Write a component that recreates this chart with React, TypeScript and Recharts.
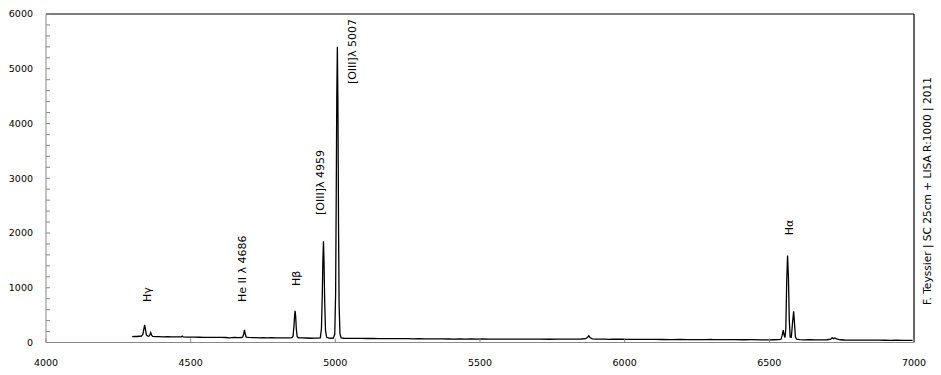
import { LineChart, Line, XAxis, YAxis, ReferenceLine, ReferenceDot } from 'recharts';

// wavelength (Å) and relative flux
const wavelength = [
  4298, 4306, 4314, 4322, 4330, 4335, 4338, 4341, 4344, 4347, 4351, 4355, 4359, 4362, 4365, 4369,
  4378, 4390, 4405, 4420, 4435, 4450, 4462, 4468, 4471, 4474, 4485, 4500, 4515, 4530, 4545, 4560,
  4575, 4590, 4605, 4620, 4635, 4650, 4665, 4675, 4680, 4683, 4686, 4689, 4692, 4700, 4712, 4725,
  4738, 4750, 4765, 4780, 4795, 4810, 4825, 4840, 4850, 4854, 4857, 4859, 4861, 4863, 4865, 4868,
  4872, 4885, 4900, 4915, 4928, 4940, 4948, 4952, 4955, 4957, 4959, 4961, 4963, 4966, 4970, 4978,
  4986, 4993, 4998, 5001, 5003, 5005, 5007, 5009, 5011, 5013, 5016, 5020, 5030, 5045, 5060, 5075,
  5090, 5110, 5130, 5150, 5170, 5190, 5210, 5230, 5250, 5270, 5290, 5310, 5330, 5350, 5370, 5390,
  5410, 5430, 5450, 5470, 5490, 5510, 5530, 5560, 5590, 5620, 5650, 5680, 5710, 5740, 5770, 5800,
  5830, 5850, 5865, 5872, 5876, 5880, 5888, 5900, 5915, 5930, 5945, 5960, 5975, 5990, 6010, 6040,
  6070, 6100, 6130, 6160, 6190, 6220, 6250, 6280, 6300, 6304, 6320, 6350, 6380, 6410, 6440, 6470,
  6500, 6515, 6530, 6540, 6544, 6548, 6551, 6554, 6557, 6560, 6563, 6566, 6569, 6572, 6576, 6580,
  6584, 6587, 6590, 6594, 6605, 6620, 6640, 6660, 6680, 6700, 6712, 6717, 6722, 6727, 6732, 6745,
  6760, 6780, 6800, 6820, 6840, 6860, 6880, 6900, 6920, 6940, 6960, 6980, 6995,
];
const flux = [
  108, 112, 110, 114, 118, 150, 240, 320, 230, 140, 118, 112, 140, 180, 135, 112,
  108, 106, 104, 105, 102, 103, 101, 104, 118, 102, 100, 98, 97, 96, 93, 95,
  94, 93, 92, 91, 85, 92, 90, 91, 100, 150, 230, 150, 98, 92, 89, 90,
  86, 88, 85, 87, 86, 84, 85, 84, 88, 120, 300, 480, 580, 470, 260, 110,
  86, 83, 82, 78, 80, 79, 85, 250, 900, 1500, 1850, 1450, 800, 220, 95, 80,
  78, 80, 150, 900, 2600, 4500, 5400, 4300, 2200, 700, 160, 85, 78, 76, 77, 74,
  75, 73, 74, 72, 70, 72, 71, 69, 70, 67, 69, 66, 68, 65, 66, 64,
  62, 65, 63, 64, 62, 64, 63, 62, 63, 61, 62, 60, 61, 59, 60, 61,
  62, 64, 70, 95, 125, 90, 66, 62, 60, 63, 58, 61, 59, 60, 58, 57,
  56, 57, 55, 54, 55, 53, 54, 52, 58, 54, 52, 51, 52, 50, 51, 49,
  48, 50, 52, 55, 120, 225, 140, 90, 250, 1100, 1590, 1200, 400, 100, 95, 350,
  570, 350, 110, 60, 52, 48, 50, 47, 48, 50, 60, 85, 70, 82, 65, 50,
  46, 45, 44, 45, 43, 42, 44, 41, 40, 42, 39, 40, 38,
];

const xTicks = [4000, 4500, 5000, 5500, 6000, 6500, 7000];
const yTicks = [
  0, 200, 400, 600, 800, 1000, 1200, 1400, 1600, 1800, 2000, 2200, 2400, 2600, 2800, 3000,
  3200, 3400, 3600, 3800, 4000, 4200, 4400, 4600, 4800, 5000, 5200, 5400, 5600, 5800, 6000,
];

// line identifications: text, and the point where the rotated label starts
const lineLabels = ['Hγ', 'He II λ 4686', 'Hβ', '[OIII]λ 4959', '[OIII]λ 5007', 'Hα'];
const labelWave = [4349, 4677, 4864, 4947, 5058, 6568];
const labelFlux = [740, 740, 1030, 2330, 4720, 1960];

const credit = 'F. Teyssier | SC 25cm + LISA R:1000  |  2011';

const data = wavelength.map((w, i) => ({ wavelength: w, flux: flux[i] }));

const font = 'DejaVu Sans';

function YTick(props: any) {
  const { x, y, payload } = props;
  const major = payload.value % 1000 === 0;
  return (
    <g>
      <line x1={x} x2={x + 4} y1={y} y2={y} stroke="#888" />
      {major && (
        <text x={x - 13} y={y} dy="0.35em" textAnchor="end" fontSize={9.5} fill="#000" fontFamily={font}>
          {payload.value}
        </text>
      )}
    </g>
  );
}

function XTick(props: any) {
  const { x, y, payload } = props;
  return (
    <g>
      <line x1={x} x2={x} y1={y} y2={y - 4} stroke="#888" />
      <text x={x} y={y + 23} textAnchor="middle" fontSize={9.5} fill="#000" fontFamily={font}>
        {payload.value}
      </text>
    </g>
  );
}

function lineLabel(text: string) {
  return (props: any) => {
    const { viewBox } = props;
    const cx = viewBox.x + viewBox.width / 2;
    const cy = viewBox.y + viewBox.height / 2;
    return (
      <text
        transform={`translate(${cx},${cy}) rotate(-90)`}
        dy="0.35em"
        fontSize={11}
        fill="#000"
        fontFamily={font}
      >
        {text}
      </text>
    );
  };
}

export default function App() {
  return (
    <div style={{ position: 'absolute', left: 0, top: 0, width: 941, height: 375, background: '#fff' }}>
      <LineChart
        width={941}
        height={375}
        data={data}
        margin={{ top: 14, right: 27, bottom: 12.5, left: 6 }}
        style={{ fontFamily: font }}
      >
        <XAxis
          dataKey="wavelength"
          type="number"
          domain={[4000, 7000]}
          ticks={xTicks}
          interval={0}
          tickSize={0}
          tickMargin={0}
          tickLine={false}
          tick={<XTick />}
          height={20}
          stroke="#888"
          allowDataOverflow
        />
        <YAxis
          type="number"
          domain={[0, 6000]}
          ticks={yTicks}
          interval={0}
          tickSize={0}
          tickMargin={0}
          tickLine={false}
          tick={<YTick />}
          width={40}
          stroke="#888"
          allowDataOverflow
        />
        <ReferenceLine y={6000} stroke="#000" strokeWidth={1.2} />
        <ReferenceLine x={7000} stroke="#000" strokeWidth={1.2} />
        <Line
          type="linear"
          dataKey="flux"
          stroke="#000"
          strokeWidth={1.3}
          dot={false}
          isAnimationActive={false}
        />
        {lineLabels.map((t, i) => (
          <ReferenceDot
            key={t}
            x={labelWave[i]}
            y={labelFlux[i]}
            r={0}
            stroke="none"
            fill="none"
            label={{ content: lineLabel(t) }}
          />
        ))}
      </LineChart>
      <svg width={941} height={375} style={{ position: 'absolute', left: 0, top: 0, pointerEvents: 'none' }}>
        <text
          transform="translate(927,191) rotate(-90)"
          dy="0.35em"
          textAnchor="middle"
          fontSize={10.6}
          fill="#000"
          fontFamily={font}
        >
          {credit}
        </text>
      </svg>
    </div>
  );
}
